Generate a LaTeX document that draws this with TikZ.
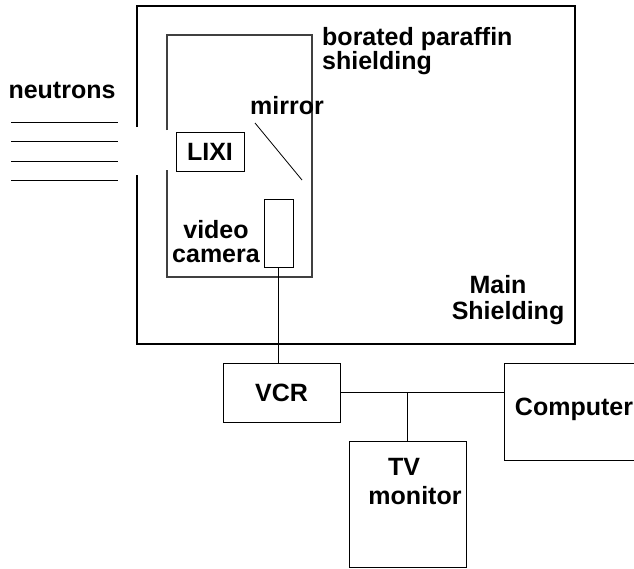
\documentclass[tikz,border=0pt]{standalone}
\usepackage{fontspec}
\setmainfont{Liberation Sans}
\begin{document}
\begin{tikzpicture}[x=1pt,y=-1pt,
  lbl/.style={font=\fontsize{25}{24}\selectfont\bfseries, inner sep=0pt, align=center},
  box/.style={draw, line width=1pt, inner sep=0pt},
  wire/.style={line width=1pt},
  wall/.style={line width=1.6pt},
  inner/.style={line width=1.2pt, draw=black!75}]
\useasboundingbox (0,0) rectangle (634,568);
\clip (0,0) rectangle (634,568);
% main shielding (with entrance gap)
\draw[wall] (137,127) -- (137,6) -- (575,6) -- (575,344) -- (137,344) -- (137,175);
% borated paraffin (with entrance gap)
\draw[inner] (167,130) -- (167,35) -- (312,35) -- (312,277) -- (167,277) -- (167,170);
% neutron beam
\foreach \y in {122,141,161,180} \draw[wire] (11,\y) -- (118,\y);
% mirror
\coordinate (m1) at (255,123);
\coordinate (m2) at (302,180);
\draw[line width=0.8pt] (m1) -- (m2);
% boxes
\node[box, minimum width=68pt, minimum height=39pt] (lixi) at (210,151.5) {};
\node[box, minimum width=29pt, minimum height=68pt] (cam) at (278.5,233) {};
\node[box, minimum width=117pt, minimum height=59pt] (vcr) at (281.5,392.5) {};
\node[box, minimum width=117pt, minimum height=126pt] (tv) at (407.5,504) {};
\node[box, minimum width=150pt, minimum height=97pt] (comp) at (579,411.5) {};
% labels
\node[lbl] (tneut) at (62,90) {neutrons};
\node[lbl] at (lixi.center) {LIXI};
\node[lbl] (tmir) at (287,106) {mirror};
\node[lbl, anchor=north west, align=left] (tbor) at (322,27) {borated paraffin\\shielding};
\node[lbl] (tcam) at (216,242) {video\\camera};
\node[lbl] (tmain1) at (498,285) {Main};
\node[lbl] (tmain2) at (508,313) {Shielding};
\node[lbl] at (vcr.center) {VCR};
\node[lbl] (ttv1) at (404,467) {TV};
\node[lbl] (ttv2) at (415,496) {monitor};
\node[lbl] (tcomp) at (574,409) {Computer};
% connectors
\coordinate (j) at (tv.north |- vcr.east);
\draw[wire] (cam.south) -- (cam.south |- vcr.north);
\draw[wire] (vcr.east) -- (vcr.east -| comp.west);
\draw[wire] (j) -- (tv.north);
\end{tikzpicture}
\end{document}
